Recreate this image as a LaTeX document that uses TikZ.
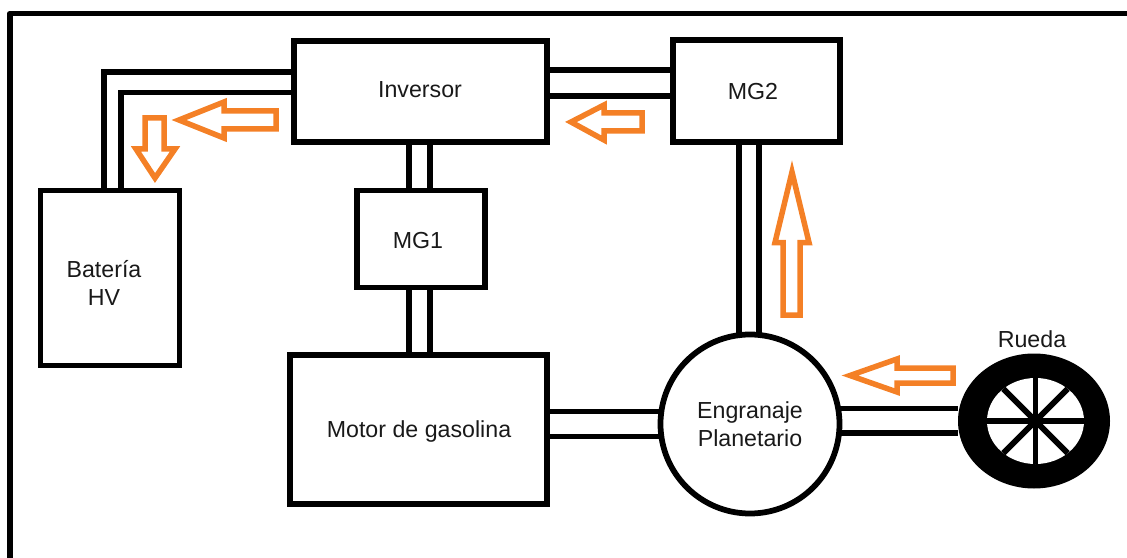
\documentclass[tikz,border=0pt]{standalone}
\usepackage{fontspec}
\setmainfont{Liberation Sans}
\usetikzlibrary{calc,shapes.geometric}
\definecolor{floworange}{RGB}{244,128,38}

\begin{document}
\begin{tikzpicture}[x=0.2mm, y=-0.2mm]

\def\lineWidth{1.15}
\def\flowWidth{1.1}
\def\spokeWidth{1.15}
\def\textsize{13.2}

\tikzset{
	block/.style 2 args={draw, line width=\lineWidth mm, inner sep=0, outer sep=0, minimum width=#1*0.2mm, minimum height=#2*0.2mm},
	caption/.style={align=center, inner sep=0, text=black!90, font=\fontsize{\textsize}{16}\selectfont},
	shaft/.style={line width=\lineWidth mm},
	flow/.style={draw=floworange, line width=\flowWidth mm, miter limit=10},
	spoke/.style={line width=\spokeWidth mm}
}

\useasboundingbox (0,0) rectangle (1127,558);

\coordinate (frame-low) at (10,558);
\coordinate (frame-corner) at (10,13.5);
\coordinate (frame-end) at (1127,13.5);

%BLOCKS
\node[block={253}{101}] (inversor) at (420.5,91.5) {};
\node[caption] (inversor-text) at (420,90) {Inversor};
\node[block={167}{102}] (mg2) at (756.5,91) {};
\node[caption] (mg2-text) at (753,92) {MG2};
\node[block={139}{175}] (bateria) at (110,278) {};
\node[caption] (bateria-text) at ($(bateria)+(-6,5)$) {Batería\\HV};
\node[block={128}{97}] (mg1) at (421,239) {};
\node[caption] (mg1-text) at (418,241) {MG1};
\node[block={257}{149}] (motor) at (418.5,429.5) {};
\node[caption] (motor-text) at (419,431) {Motor de gasolina};
\node[draw, circle, line width=\lineWidth mm, inner sep=0, outer sep=0, minimum size=179*0.2mm, caption] (planetario) at (750,424) {Engranaje\\Planetario};

\node[ellipse, fill=black, inner sep=0, outer sep=0, minimum width=152*0.2mm, minimum height=135*0.2mm] (rueda) at (1034,421) {};
\node[ellipse, fill=white, inner sep=0, outer sep=0, minimum width=97*0.2mm, minimum height=86*0.2mm] (llanta) at (1035.5,421) {};
\node[caption] (rueda-text) at (1032,339) {Rueda};

%RAILS
\coordinate (bat-outer) at (104,72);
\coordinate (bat-inner) at (121,92.5);
\coordinate (mg1-left) at (409,0);
\coordinate (mg1-right) at (430,0);
\coordinate (mg2-top) at (0,70);
\coordinate (mg2-low) at (0,96);

%DRAW
\draw[line width=\lineWidth mm, line join=round] (frame-low) -- (frame-corner) -- (frame-end);

\draw[shaft] (inversor.west |- bat-outer) -- (bat-outer) -- (bat-outer |- bateria.north);
\draw[shaft] (inversor.west |- bat-inner) -- (bat-inner) -- (bat-inner |- bateria.north);
\draw[shaft] (inversor.east |- mg2-top) -- (mg2.west |- mg2-top);
\draw[shaft] (inversor.east |- mg2-low) -- (mg2.west |- mg2-low);
\draw[shaft] (inversor.south -| mg1-left) -- (mg1.north -| mg1-left);
\draw[shaft] (inversor.south -| mg1-right) -- (mg1.north -| mg1-right);
\draw[shaft] (mg1.south -| mg1-left) -- (motor.north -| mg1-left);
\draw[shaft] (mg1.south -| mg1-right) -- (motor.north -| mg1-right);
\draw[shaft] (motor.east |- planetario.172.3) -- (planetario.172.3);
\draw[shaft] (motor.east |- planetario.188.3) -- (planetario.188.3);
\draw[shaft] (planetario.97) -- (planetario.97 |- mg2.south);
\draw[shaft] (planetario.84.5) -- (planetario.84.5 |- mg2.south);
\draw[shaft] (planetario.10.3) -- (planetario.10.3 -| rueda.west);
\draw[shaft] (planetario.-6.4) -- (planetario.-6.4 -| rueda.west);

\draw[spoke] (llanta.north) -- (llanta.south);
\draw[spoke] (llanta.west) -- (llanta.east);
\draw[spoke] (llanta.135) -- (llanta.-45);
\draw[spoke] (llanta.45) -- (llanta.-135);

%ARROWS
\draw[flow] (179,120) -- (224,102) -- (224,111) -- (276,111) -- (276,129) -- (224,129) -- (224,138) -- cycle;
\draw[flow] (155,178) -- (136,149) -- (145,149) -- (145,118) -- (164,118) -- (164,149) -- (175,149) -- cycle;
\draw[flow] (571,122) -- (604,105) -- (604,113) -- (642,113) -- (642,131) -- (604,131) -- (604,140) -- cycle;
\draw[flow] (792,172) -- (775,242.5) -- (783,242.5) -- (783,315) -- (800,315) -- (800,242.5) -- (809,242.5) -- cycle;
\draw[flow] (850,375.5) -- (897,359) -- (897,368) -- (953,368) -- (953,383) -- (897,383) -- (897,392) -- cycle;

\end{tikzpicture}
\end{document}
